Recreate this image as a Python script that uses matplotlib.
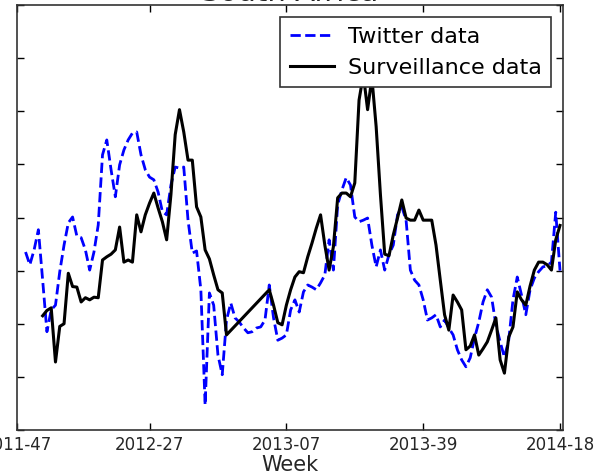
import numpy as np
import matplotlib
matplotlib.use("Agg")
import matplotlib.pyplot as plt

# week index 0 = 2011-47
tick_weeks = [0, 31, 63, 95, 127]
tick_labels = ["2011-47", "2012-27", "2013-07", "2013-39", "2014-18"]

# Twitter signal, weeks 2..127
twitter_weeks = list(range(2, 128))
twitter = [
    3.35, 3.11, 3.39, 3.77, 2.82, 1.85, 2.26, 2.35, 2.98, 3.48,
    3.90, 4.01, 3.65, 3.62, 3.39, 3.01, 3.35, 3.86, 5.18, 5.46,
    4.90, 4.39, 4.99, 5.27, 5.46, 5.59, 5.61, 5.18, 4.90, 4.76,
    4.71, 4.48, 4.11, 4.05, 4.61, 4.95, 4.93, 4.95, 3.95, 3.33,
    3.37, 2.64, 0.47, 2.58, 2.35, 1.41, 1.04, 2.07, 2.39, 2.11,
    2.03, 1.92, 1.83, 1.85, 1.92, 1.94, 2.07, 2.73, 2.11, 1.69,
    1.73, 1.79, 2.26, 2.45, 2.22, 2.60, 2.73, 2.69, 2.64, 2.77,
    2.92, 3.58, 3.01, 4.24, 4.52, 4.75, 4.61, 4.01, 3.92, 3.95,
    3.99, 3.48, 3.07, 3.39, 3.01, 3.30, 3.48, 4.05, 4.20, 3.95,
    3.01, 2.82, 2.73, 2.45, 2.07, 2.11, 2.17, 1.94, 2.07, 1.92,
    1.79, 1.51, 1.32, 1.19, 1.36, 1.73, 2.03, 2.41, 2.64, 2.50,
    1.98, 1.66, 1.37, 1.69, 2.45, 2.88, 2.54, 2.17, 2.64, 2.86,
    2.98, 3.07, 3.09, 3.16, 4.10, 3.00,
]

# surveillance signal, no reports for weeks 50-58
surv_weeks = list(range(6, 50)) + list(range(59, 128))
surveillance = [
    2.15, 2.25, 2.30, 1.28, 1.95, 2.00, 2.95, 2.70, 2.69, 2.41,
    2.49, 2.45, 2.50, 2.49, 3.20, 3.26, 3.31, 3.39, 3.82, 3.16,
    3.20, 3.16, 4.05, 3.73, 4.05, 4.27, 4.46, 4.18, 3.92, 3.58,
    4.43, 5.56, 6.03, 5.61, 5.08, 5.08, 4.20, 4.01, 3.39, 3.22,
    2.92, 2.64, 2.58, 1.79,
    2.64, 2.35, 2.02, 1.98, 2.35, 2.64, 2.88, 2.98, 2.96, 3.26,
    3.52, 3.80, 4.05, 3.48, 3.01, 3.45, 4.37, 4.46, 4.46, 4.39,
    4.65, 6.21, 6.69, 6.03, 6.63, 5.71, 4.43, 3.31, 3.28, 3.67,
    3.99, 4.33, 3.99, 3.95, 3.95, 4.14, 3.95, 3.95, 3.95, 3.48,
    2.82, 2.17, 1.88, 2.54, 2.41, 2.26, 1.51, 1.58, 1.79, 1.41,
    1.53, 1.66, 1.88, 2.11, 1.32, 1.07, 1.75, 1.94, 2.60, 2.45,
    2.35, 2.71, 3.01, 3.16, 3.16, 3.11, 3.01, 3.58, 3.85,
]

fig = plt.figure(figsize=(6, 4.75), dpi=100)
ax = fig.add_axes([17 / 600, 1 - 430 / 475, 546 / 600, 425 / 475])

ax.plot(twitter_weeks, twitter, "b--", lw=2, label="Twitter data")
ax.plot(surv_weeks, surveillance, "k-", lw=2.2, label="Surveillance data")

ax.set_xlim(0, 127.7)
ax.set_ylim(0, 8)
ax.set_yticks(np.arange(0, 9, 1))
ax.set_xticks(tick_weeks)
ax.set_xticklabels(tick_labels, fontsize=12, color="#262626")
ax.tick_params(direction="in", top=True, right=True, labelleft=False,
               length=5, width=1, pad=4)
for s in ax.spines.values():
    s.set_linewidth(1.2)
    s.set_color("#333333")

ax.set_xlabel("Week", fontsize=15, color="#262626", labelpad=1)
# title sits just above the top spine
ax.text(0.5, 1 + 4 / 425, "South Africa", transform=ax.transAxes,
        ha="center", va="baseline", fontsize=21, color="#262626")

leg = ax.legend(loc="upper right", fontsize=16, fancybox=False, framealpha=1,
                edgecolor="#333333", borderaxespad=0.55, handlelength=2.0,
                handletextpad=0.6, borderpad=0.42, labelspacing=0.5)
leg.get_frame().set_linewidth(1.2)

fig.savefig("out.png", dpi=100)
